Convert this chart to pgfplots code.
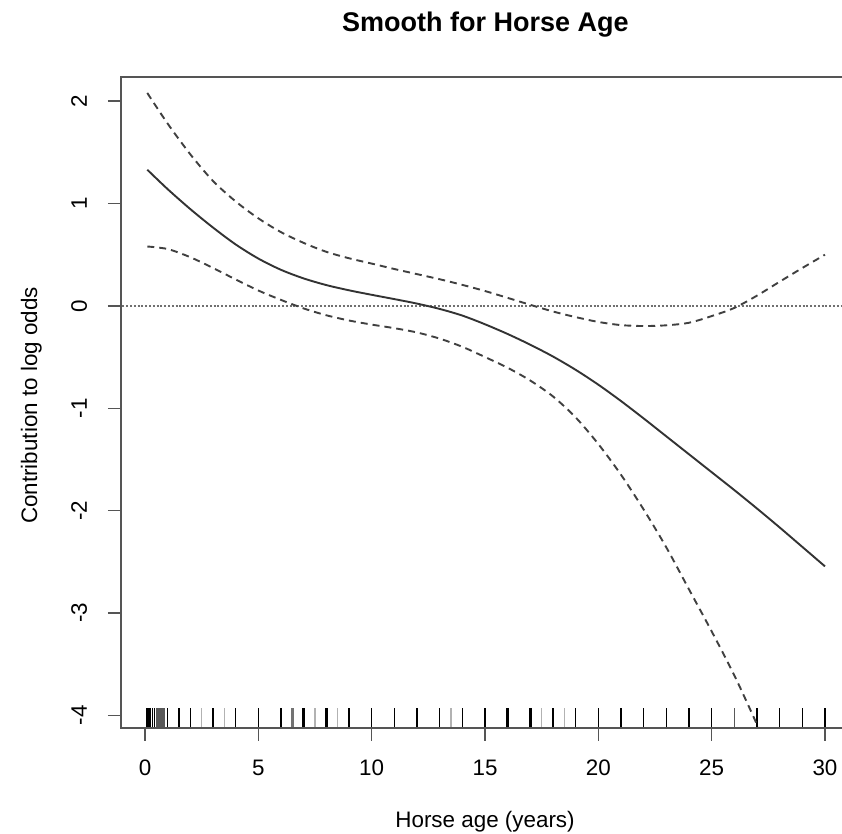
\documentclass[border=0pt]{standalone}
\usepackage{fontspec}
\setmainfont{Liberation Sans}
\usepackage{pgfplots}
\pgfplotsset{compat=1.18}
\definecolor{boxc}{HTML}{555555}
\definecolor{curvec}{HTML}{333333}
\definecolor{dashc}{HTML}{404040}
\definecolor{dotc}{HTML}{707070}
\begin{document}
\begin{tikzpicture}
\begin{axis}[
  name=ax, at={(0,0)}, anchor=south west,
  scale only axis, width=360.5pt, height=325.5pt,
  xmin=-1.06, xmax=30.75, ymin=-4.124, ymax=2.236,
  axis line style={draw=none},
  xtick={0,5,10,15,20,25,30}, ytick={-4,-3,-2,-1,0,1,2},
  xticklabels={0,5,10,15,20,25,30},
  yticklabels={-4,-3,-2,-1,0,1,2},
  xtick pos=lower, ytick pos=left,
  tick align=outside, major tick length=6.5pt,
  tick style={boxc, line width=0.7pt},
  font=\fontsize{11.2}{13}\selectfont,
  xticklabel shift=0pt, yticklabel shift=0pt,
  xticklabel style={anchor=base, yshift=-17.5pt},
  yticklabel style={rotate=90, anchor=base, yshift=10.5pt},
  every axis title/.style={at={(axis description cs:0.5055,1.0696)}, anchor=base, font=\fontsize{13.5}{16}\selectfont\bfseries},
  every axis x label/.style={at={(axis description cs:0.5049,-0.1521)}, anchor=base},
  every axis y label/.style={at={(axis description cs:-0.1165,0.4954)}, rotate=90, anchor=base},
  title={Smooth for Horse Age},
  xlabel={Horse age (years)},
  ylabel={Contribution to log odds},
]
% zero reference line
\addplot[dotc, line width=1pt, dash pattern=on 1pt off 0.9pt] coordinates {(-2,0) (32,0)};
% rug (thin, dark)
\addplot[black, line width=0.75pt, -, quiver={u=0, v=0.1955}] table {
x y
0.08 -4.124
0.17 -4.124
0.25 -4.124
0.33 -4.124
0.42 -4.124
1 -4.124
1.5 -4.124
2 -4.124
3 -4.124
4 -4.124
5 -4.124
9 -4.124
10 -4.124
11 -4.124
12 -4.124
13 -4.124
14 -4.124
15 -4.124
19 -4.124
20 -4.124
21 -4.124
22 -4.124
23 -4.124
24 -4.124
25 -4.124
27 -4.124
28 -4.124
29 -4.124
30 -4.124
};
% rug (grey cluster / medium)
\addplot[black!65, line width=0.75pt, -, quiver={u=0, v=0.1955}] table {
x y
0.5 -4.124
0.58 -4.124
0.67 -4.124
0.75 -4.124
0.83 -4.124
26 -4.124
};
% rug (light)
\addplot[black!30, line width=0.75pt, -, quiver={u=0, v=0.1955}] table {
x y
2.5 -4.124
3.5 -4.124
7.5 -4.124
8.5 -4.124
13.5 -4.124
17.5 -4.124
18.5 -4.124
};
% rug (thick)
\addplot[black, line width=1.3pt, -, quiver={u=0, v=0.1955}] table {
x y
6 -4.124
7 -4.124
8 -4.124
16 -4.124
17 -4.124
18 -4.124
};
\addplot[black!55, line width=1.3pt, -, quiver={u=0, v=0.1955}] table {
x y
6.5 -4.124
};
% fitted smooth
\addplot[curvec, line width=0.95pt, smooth] coordinates {
(0.1,1.33) (1,1.14) (2,0.945) (3,0.765) (4,0.60) (5,0.462) (6,0.352) (7,0.268)
(8,0.203) (9,0.152) (10,0.108) (11,0.066) (12,0.022) (13,-0.03) (14,-0.095)
(15,-0.18) (16,-0.275) (17,-0.38) (18,-0.495) (19,-0.625) (20,-0.77)
(21,-0.93) (22,-1.10) (23,-1.275) (24,-1.45) (25,-1.625) (26,-1.80)
(27,-1.98) (28,-2.165) (29,-2.355) (30,-2.545)
};
% upper band
\addplot[dashc, line width=0.95pt, smooth, dash pattern=on 3.5pt off 2.5pt] coordinates {
(0.1,2.08) (1,1.78) (2,1.48) (3,1.22) (4,1.02) (5,0.855) (6,0.72) (7,0.615)
(8,0.528) (9,0.465) (10,0.413) (11,0.36) (12,0.31) (13,0.26) (14,0.205)
(15,0.145) (16,0.078) (17,0.01) (18,-0.055) (19,-0.11) (20,-0.157)
(21,-0.188) (22,-0.197) (23,-0.19) (24,-0.165) (25,-0.1) (26,-0.02)
(27,0.1) (28,0.236) (29,0.37) (30,0.5)
};
% lower band
\addplot[dashc, line width=0.95pt, smooth, dash pattern=on 3.5pt off 2.5pt] coordinates {
(0.1,0.58) (1,0.555) (2,0.475) (3,0.37) (4,0.258) (5,0.15) (6,0.058)
(7,-0.025) (8,-0.092) (9,-0.143) (10,-0.183) (11,-0.218) (12,-0.26)
(13,-0.32) (14,-0.40) (15,-0.50) (16,-0.605) (17,-0.73) (18,-0.885)
(19,-1.09) (20,-1.35) (21,-1.65) (22,-1.99) (23,-2.36) (24,-2.77)
(25,-3.18) (26,-3.61) (27,-4.09) (27.5,-4.35)
};
\end{axis}
\draw[boxc, line width=0.8pt] (ax.south east) -- (ax.south west) -- (ax.north west) -- (ax.north east);
\pgfresetboundingbox
\useasboundingbox (-60.5pt,-53pt) rectangle (360.5pt,364pt);
\end{tikzpicture}
\end{document}
